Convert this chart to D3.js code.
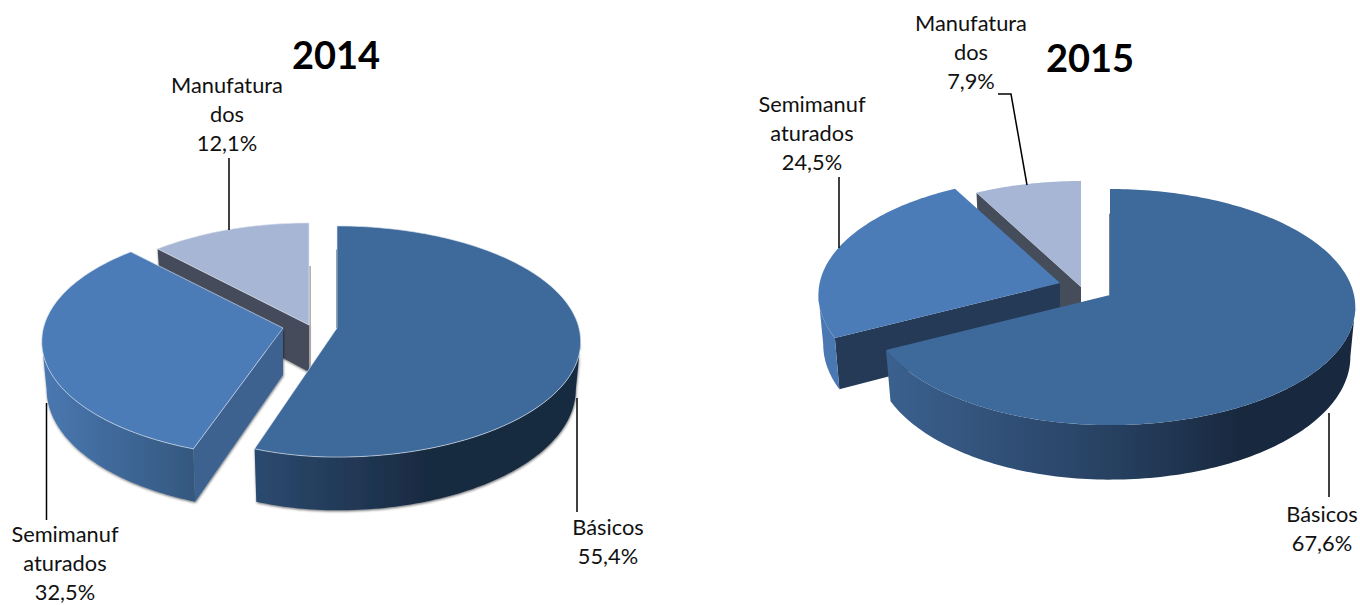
<!DOCTYPE html>
<html>
<head>
<meta charset="utf-8">
<title>Exportações 2014 e 2015</title>
<script src="https://cdn.jsdelivr.net/npm/d3@7"></script>
<style>
  html, body { margin: 0; padding: 0; background: #fff; overflow: hidden; }
  svg { display: block; }
  text { font-family: Lato, "Open Sans", sans-serif; fill: #111; }
  .title { font-size: 38px; font-weight: 700; text-anchor: middle; fill: #000; }
  .label { font-size: 21.8px; text-anchor: middle; }
  .leader { fill: none; stroke: #000; stroke-width: 1.5; }
</style>
</head>
<body>
<div id="chart"></div>
<script>
// data
const categories = ["Básicos", "Semimanufaturados", "Manufaturados"];
const labelLines = [["Básicos"], ["Semimanuf", "aturados"], ["Manufatura", "dos"]];
const values2014 = [55.4, 32.5, 12.1];
const values2015 = [67.6, 24.5, 7.9];

// layout of each pie: apex = where the exploded slice tip lands on the page
const charts = [
  {
    title: "2014", titleX: 336, titleY: 69, values: values2014,
    w: 242, k: 0.117, h: 114, depth: 47,
    apex: [[337, 328], [283, 328], [309, 325]],
    leftScale: [0.91, 0.99, 0.985],
    cutFill: ["#2a466b", "#3c6290", "#454c5a"],
    wallStops: [
      [["0%", "#2c4a70"], ["55%", "#18293f"], ["100%", "#18293f"]],
      [["0%", "#4a78b2"], ["100%", "#34587f"]],
      [["0%", "#454c5a"], ["100%", "#454c5a"]]
    ],
    edge: "#dfe6f0", shadow: true,
    labelPos: [[608, 535], [65, 542], [227, 93]],
    leaders: [
      [[577, 398], [577, 512]],
      [[46.5, 403], [46.5, 520]],
      [[229, 158], [229, 230]]
    ]
  },
  {
    title: "2015", titleX: 1090, titleY: 72, values: values2015,
    w: 244, k: 0.102, h: 116.8, depth: 49,
    apex: [[1110, 295], [1060, 283], [1081, 287]],
    leftScale: [0.98, 0.985, 0.98],
    cutFill: ["#2a466b", "#243a57", "#454c5a"],
    wallStops: [
      [["0%", "#3b618f"], ["50%", "#263f5f"], ["75%", "#18293f"], ["100%", "#18293f"]],
      [["0%", "#4a78b2"], ["100%", "#4a78b2"]],
      [["0%", "#454c5a"], ["100%", "#454c5a"]]
    ],
    edge: null, shadow: false,
    labelPos: [[1322, 522], [812, 112], [971, 31]],
    leaders: [
      [[1329, 413], [1329, 497]],
      [[839, 177], [839, 248]],
      [[998, 94], [1011, 94], [1027, 185]]
    ]
  }
];

const topFill = ["#3e699b", "#4c7cb8", "#a7b6d5"];
const width = 1360, height = 605;
const lineStep = 28.8;

const svg = d3.select("#chart").append("svg")
  .attr("width", width)
  .attr("height", height);

const defs = svg.append("defs");
const blur = defs.append("filter").attr("id", "soft")
  .attr("x", "-10%").attr("y", "-10%").attr("width", "120%").attr("height", "125%");
blur.append("feDropShadow")
  .attr("dx", 0.5).attr("dy", 1.2).attr("stdDeviation", 1.2)
  .attr("flood-color", "#000").attr("flood-opacity", 0.55);

const line = d3.line();
const pct = v => v.toFixed(1).replace(".", ",") + "%";

function drawPie(c, ci) {
  const g = svg.append("g").attr("class", "pie");
  const pie = d3.pie().sort(null).value(d => d);
  const arcs = pie(c.values);

  // perspective projection of the unit disc, top plane and bottom plane
  const project = (i, a, r, narrow, drop) => {
    const apex = c.apex[i];
    const u = r * Math.sin(a), v = r * Math.cos(a), s = 1 + c.k * v;
    const side = u < 0 ? c.leftScale[i] : 1;
    return [apex[0] + narrow * side * c.w * u / s, apex[1] - c.h * v / s + drop / s];
  };
  const top = (i, a, r = 1) => project(i, a, r, 1, 0);
  const bottom = (i, a, r = 1) => project(i, a, r, 0.98, c.depth);
  const sweep = (a0, a1) => {
    const n = Math.max(2, Math.ceil((a1 - a0) / 0.02));
    return d3.range(n + 1).map(i => a0 + (a1 - a0) * i / n);
  };
  const frontFrom = Math.PI / 2 + Math.asin(c.k);
  const frontTo = 3 * Math.PI / 2 - Math.asin(c.k);

  // back slices first
  d3.range(arcs.length - 1, -1, -1).forEach(i => {
    const d = arcs[i];
    const sides = g.append("g");
    if (c.shadow) sides.attr("filter", "url(#soft)");

    const cut = a => [top(i, a), top(i, a, 0), bottom(i, a, 0), bottom(i, a)];
    if (Math.sin(d.startAngle) < -1e-6) {
      sides.append("path").attr("d", line(cut(d.startAngle)) + "Z").attr("fill", c.cutFill[i]);
    }
    if (Math.sin(d.endAngle) > 1e-6) {
      sides.append("path").attr("d", line(cut(d.endAngle)) + "Z").attr("fill", c.cutFill[i]);
    }

    const a0 = Math.max(d.startAngle, frontFrom), a1 = Math.min(d.endAngle, frontTo);
    if (a1 > a0) {
      const angles = sweep(a0, a1);
      const xs = angles.map(a => top(i, a)[0]);
      const id = `wall-${ci}-${i}`;
      const grad = defs.append("linearGradient").attr("id", id)
        .attr("gradientUnits", "userSpaceOnUse")
        .attr("x1", d3.min(xs)).attr("x2", d3.max(xs)).attr("y1", 0).attr("y2", 0);
      c.wallStops[i].forEach(s => grad.append("stop").attr("offset", s[0]).attr("stop-color", s[1]));
      const ring = angles.map(a => top(i, a)).concat(angles.slice().reverse().map(a => bottom(i, a)));
      sides.append("path").attr("d", line(ring) + "Z").attr("fill", `url(#${id})`);
    }

    // soft grey edge right of the last slice, where its flat side is seen edge-on
    if (c.shadow && i === arcs.length - 1) {
      const ax = top(i, 0, 0);
      g.append("path")
        .attr("d", line([[ax[0] + 1, top(i, 0, 0.55)[1]], [ax[0] + 1, bottom(i, 0, 0)[1]]]))
        .attr("stroke", "#9a9a9a").attr("stroke-width", 1.5).attr("fill", "none");
    }

    // thin sliver of the first cut, also nearly edge-on
    if (i === 0) {
      g.append("path")
        .attr("d", line([top(i, 0, 0.75), top(i, 0, 0)]))
        .attr("stroke", "#1c3048").attr("stroke-width", 1.2).attr("fill", "none");
    }

    // top face
    const rim = sweep(d.startAngle, d.endAngle).map(a => top(i, a));
    const wedge = [top(i, 0, 0)].concat(rim);
    g.append("path").attr("d", line(wedge) + "Z").attr("fill", topFill[i]);
    if (c.edge) {
      g.append("path")
        .attr("d", line(wedge) + "Z")
        .attr("fill", "none").attr("stroke", c.edge).attr("stroke-width", 0.8).attr("stroke-opacity", 0.8);
    }
  });

  // leaders and labels sit above the slices
  c.leaders.forEach(pts => {
    g.append("path").attr("class", "leader").attr("d", line(pts));
  });
  c.values.forEach((v, i) => {
    const lines = labelLines[i].concat(pct(v));
    g.append("text").attr("class", "label")
      .selectAll("tspan").data(lines).join("tspan")
      .attr("x", c.labelPos[i][0])
      .attr("y", (t, j) => c.labelPos[i][1] + j * lineStep)
      .text(t => t);
  });

  g.append("text").attr("class", "title")
    .attr("x", c.titleX).attr("y", c.titleY).text(c.title);
}

charts.forEach(drawPie);
</script>
</body>
</html>
